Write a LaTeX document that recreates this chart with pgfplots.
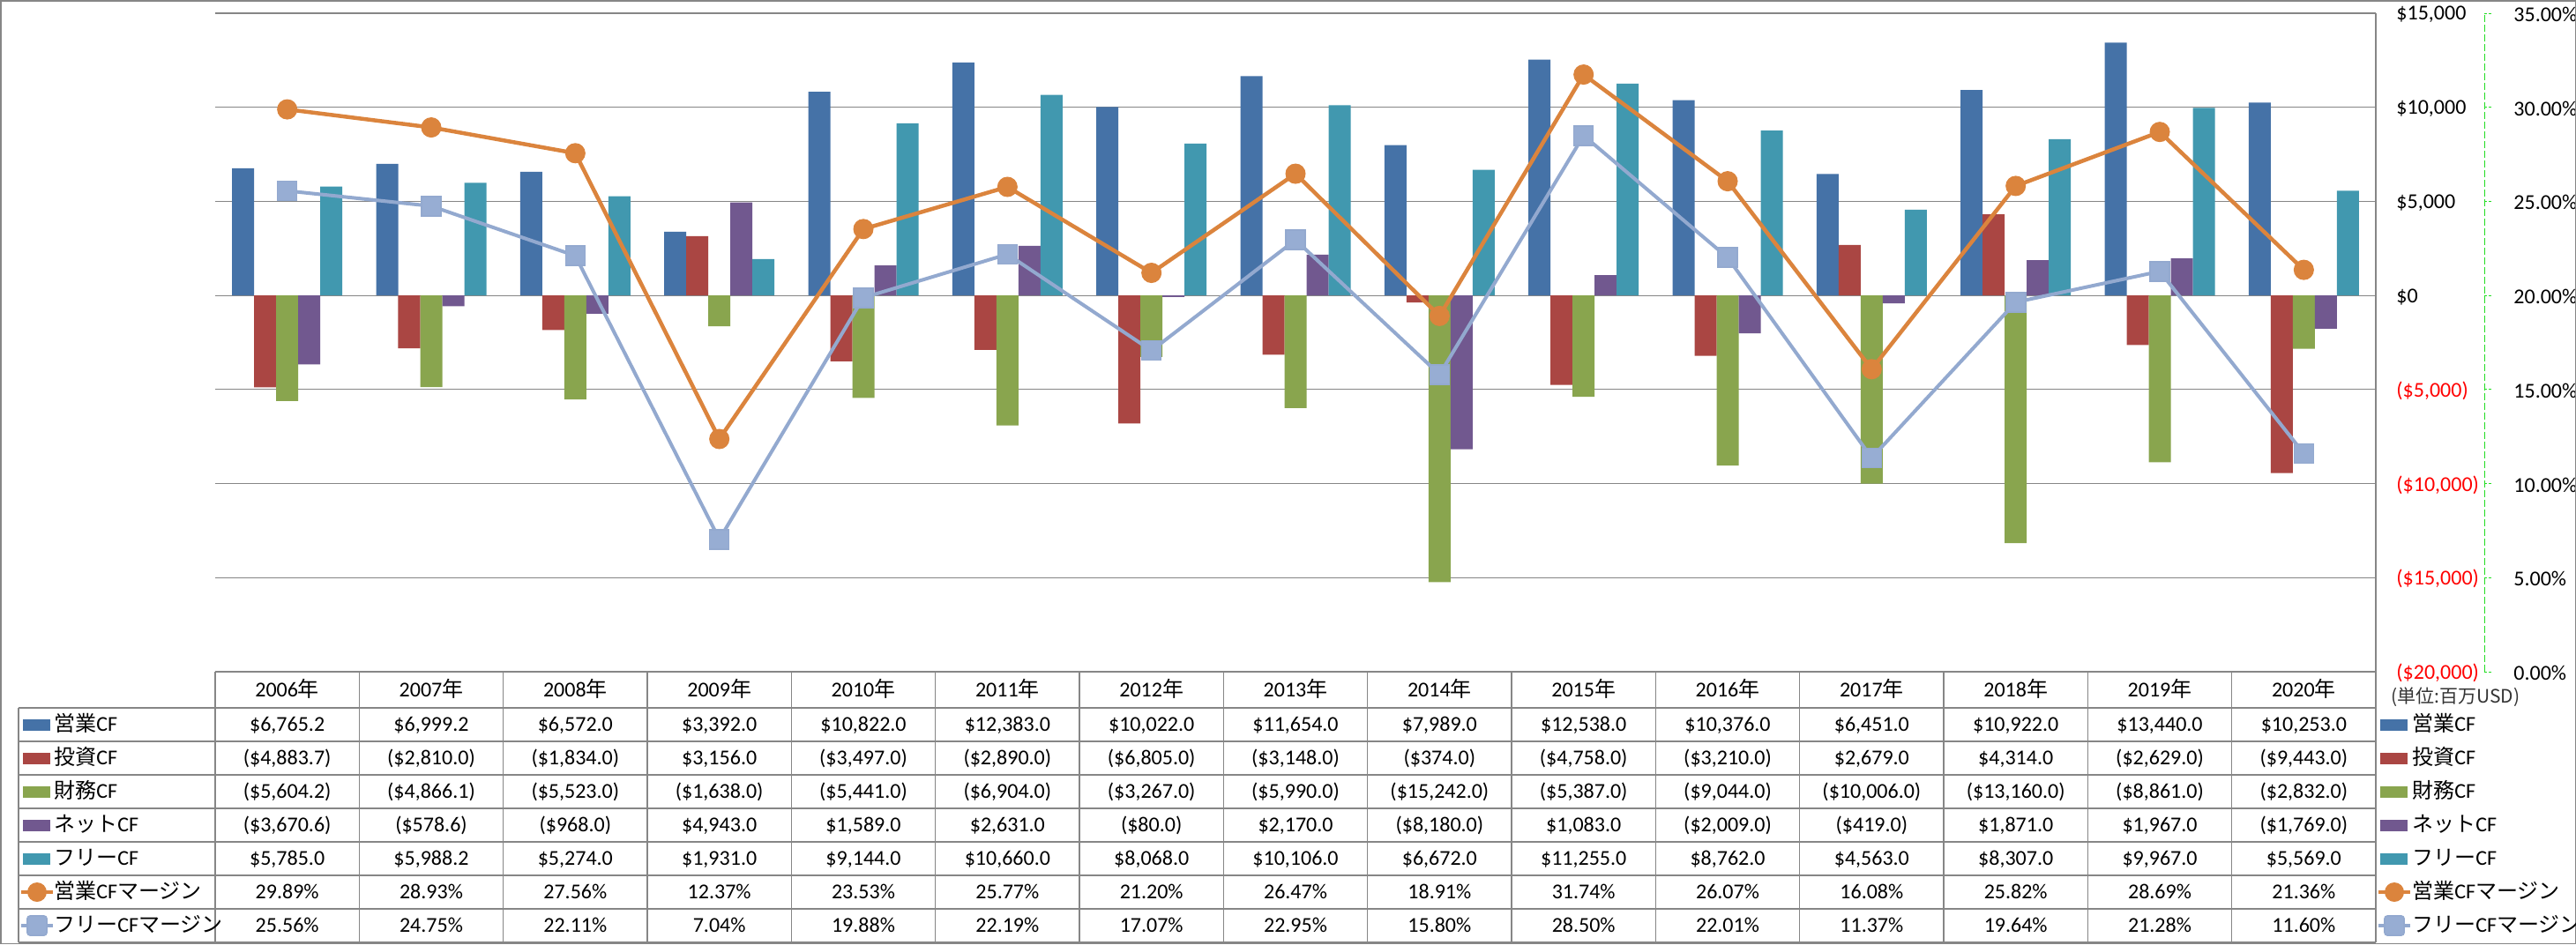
\documentclass[border=0pt]{standalone}
\usepackage{pgfplots}
\pgfplotsset{compat=1.18}
\usepackage{pgfplotstable}
\usepackage{fontspec}
\setmainfont{Carlito}
\newfontfamily\cjk{Noto Sans CJK JP}
\definecolor{cOp}{HTML}{4572A7}
\definecolor{cInv}{HTML}{AA4643}
\definecolor{cFin}{HTML}{89A54E}
\definecolor{cNet}{HTML}{71588F}
\definecolor{cFree}{HTML}{4198AF}
\definecolor{cOpm}{HTML}{DB843D}
\definecolor{cFrm}{HTML}{93A9CF}
\definecolor{cFrmM}{HTML}{97ADD3}
\definecolor{gridgray}{HTML}{868686}
\definecolor{negred}{HTML}{FF0000}
\definecolor{secgreen}{HTML}{22DD22}
\newcommand\tfont{\fontsize{12pt}{14pt}\selectfont}

\pgfplotstableread{
x year op inv fin net free opm frm
0 2006 6765.2 -4883.7 -5604.2 -3670.6 5785.0 29.89 25.56
1 2007 6999.2 -2810.0 -4866.1 -578.6 5988.2 28.93 24.75
2 2008 6572.0 -1834.0 -5523.0 -968.0 5274.0 27.56 22.11
3 2009 3392.0 3156.0 -1638.0 4943.0 1931.0 12.37 7.04
4 2010 10822.0 -3497.0 -5441.0 1589.0 9144.0 23.53 19.88
5 2011 12383.0 -2890.0 -6904.0 2631.0 10660.0 25.77 22.19
6 2012 10022.0 -6805.0 -3267.0 -80.0 8068.0 21.20 17.07
7 2013 11654.0 -3148.0 -5990.0 2170.0 10106.0 26.47 22.95
8 2014 7989.0 -374.0 -15242.0 -8180.0 6672.0 18.91 15.80
9 2015 12538.0 -4758.0 -5387.0 1083.0 11255.0 31.74 28.50
10 2016 10376.0 -3210.0 -9044.0 -2009.0 8762.0 26.07 22.01
11 2017 6451.0 2679.0 -10006.0 -419.0 4563.0 16.08 11.37
12 2018 10922.0 4314.0 -13160.0 1871.0 8307.0 25.82 19.64
13 2019 13440.0 -2629.0 -8861.0 1967.0 9967.0 28.69 21.28
14 2020 10253.0 -9443.0 -2832.0 -1769.0 5569.0 21.36 11.60
}\cfdata

\newcommand\money[1]{\ifdim #1pt<0pt (\$\edef\tmpabs{\fpeval{abs(#1)}}\pgfmathprintnumber[fixed,fixed zerofill,precision=1,1000 sep={,},assume math mode=true]{\tmpabs})\else \$\pgfmathprintnumber[fixed,fixed zerofill,precision=1,1000 sep={,},assume math mode=true]{#1}\fi}
\newcommand\pct[1]{\pgfmathprintnumber[fixed,fixed zerofill,precision=2,assume math mode=true]{#1}\%}

\newcommand\LA{{\cjk 営業}CF}
\newcommand\LB{{\cjk 投資}CF}
\newcommand\LC{{\cjk 財務}CF}
\newcommand\LD{{\cjk ネット}CF}
\newcommand\LE{{\cjk フリー}CF}
\newcommand\LF{{\cjk 営業}CF{\cjk マージン}}
\newcommand\LG{{\cjk フリー}CF{\cjk マージン}}

\begin{document}
\begin{tikzpicture}
\useasboundingbox (0pt,0pt) rectangle (1460.5pt,-535.5pt);
% primary axis with bars
\begin{axis}[
  at={(122pt,-381pt)}, anchor=south west,
  width=1225pt, height=373.5pt, scale only axis,
  xmin=-0.5, xmax=14.5, ymin=-20000, ymax=15000,
  axis x line=none, axis y line*=right,
  y axis line style={draw=none},
  ytick={-20000,-15000,-10000,-5000,0,5000,10000,15000},
  yticklabels={{\color{negred}(\$20,000)},{\color{negred}(\$15,000)},{\color{negred}(\$10,000)},{\color{negred}(\$5,000)},{\$0},{\$5,000},{\$10,000},{\$15,000}},
  major tick length=0pt, ytick style={draw=none},
  yticklabel style={anchor=west, inner sep=0pt, xshift=11.5pt, yshift=-0.7pt, font=\tfont},
  ymajorgrids, grid style={draw=gridgray, line width=0.6pt},
]
\addplot[ybar, bar width=0.1531, bar shift=-0.3061, fill=cOp, draw=none] table[x=x,y=op]{\cfdata};
\addplot[ybar, bar width=0.1531, bar shift=-0.1531, fill=cInv, draw=none] table[x=x,y=inv]{\cfdata};
\addplot[ybar, bar width=0.1531, bar shift=0, fill=cFin, draw=none] table[x=x,y=fin]{\cfdata};
\addplot[ybar, bar width=0.1531, bar shift=0.1531, fill=cNet, draw=none] table[x=x,y=net]{\cfdata};
\addplot[ybar, bar width=0.1531, bar shift=0.3061, fill=cFree, draw=none] table[x=x,y=free]{\cfdata};
\end{axis}
% secondary axis with margin lines
\begin{axis}[
  at={(122pt,-381pt)}, anchor=south west,
  width=1225pt, height=373.5pt, scale only axis,
  xmin=-0.5, xmax=14.5, ymin=0, ymax=35,
  axis x line=none, axis y line*=right,
  y axis line style={draw=secgreen, line width=0.5pt, dash pattern=on 4pt off 1.5pt, xshift=61.5pt, -},
  ytick={0,5,10,15,20,25,30,35},
  yticklabels={{0.00\%},{5.00\%},{10.00\%},{15.00\%},{20.00\%},{25.00\%},{30.00\%},{35.00\%}},
  tick align=outside, major tick length=4pt,
  ytick style={draw=secgreen, line width=0.5pt, dash pattern=on 1.5pt off 1pt, xshift=61.5pt},
  yticklabel style={anchor=west, inner sep=0pt, xshift=74pt, yshift=-0.7pt, font=\tfont},
  clip=false,
]
\addplot[color=cOpm, line width=2.25pt, mark=*, mark size=5.5pt, mark options={fill=cOpm, draw=cOpm, line width=0.5pt}] table[x=x,y=opm]{\cfdata};
\addplot[color=cFrm, line width=2pt, mark=square*, mark size=5.5pt, mark options={fill=cFrmM, draw=cFrm, line width=0.8pt, rounded corners=1.5pt}] table[x=x,y=frm]{\cfdata};
\end{axis}
% data table, legends and frame (image pixel coordinates)
\begin{scope}[x=0.5pt,y=-0.5pt]
 \draw[gridgray, line width=0.75pt] (0.75,0.75) rectangle (2920.25,1070.25);
 \begin{scope}[gridgray, line width=0.6pt]
  \draw (244,762) -- (2694,762);
  \foreach \yy in {803,841,879,917,955,993,1031,1069} \draw (21,\yy) -- (2694,\yy);
  \draw (21,803) -- (21,1069);
  \foreach \k in {0,...,14} \draw ({244+163.3333*\k},762) -- ({244+163.3333*\k},1069);
  \draw (2694,15) -- (2694,1069);
 \end{scope}
 \foreach \i in {0,...,14}{
   \pgfmathsetmacro\cx{244+163.3333*(\i+0.5)}
   \pgfplotstablegetelem{\i}{year}\of\cfdata
   \node[font=\tfont, anchor=base, inner sep=0pt] at (\cx,790) {\pgfplotsretval{\cjk 年}};
   \foreach \col/\ry in {op/822,inv/860,fin/898,net/936,free/974}{
     \pgfplotstablegetelem{\i}{\col}\of\cfdata
     \node[font=\tfont, anchor=base, inner sep=0pt] at (\cx,\ry+7.5) {\money{\pgfplotsretval}};
   }
   \pgfplotstablegetelem{\i}{opm}\of\cfdata
   \node[font=\tfont, anchor=base, inner sep=0pt] at (\cx,1019.5) {\pct{\pgfplotsretval}};
   \pgfplotstablegetelem{\i}{frm}\of\cfdata
   \node[font=\tfont, anchor=base, inner sep=0pt] at (\cx,1057.5) {\pct{\pgfplotsretval}};
 }
 % legends (left in table, right beside the table)
 \foreach \lx/\tx/\mx in {26/61/42, 2699/2735/2715}{
   \fill[cOp]   (\lx,815.5) rectangle ++(31,13);
   \fill[cInv]  (\lx,853.5) rectangle ++(31,13);
   \fill[cFin]  (\lx,891.5) rectangle ++(31,13);
   \fill[cNet]  (\lx,929.5) rectangle ++(31,13);
   \fill[cFree] (\lx,967.5) rectangle ++(31,13);
   \draw[cOpm, line width=2.25pt] (\mx-18,1012) -- (\mx+18,1012);
   \fill[cOpm] (\mx,1012) circle[radius=5.5pt];
   \draw[cFrm, line width=2pt] (\mx-18,1050) -- (\mx+18,1050);
   \filldraw[fill=cFrmM, draw=cFrm, line width=0.8pt, rounded corners=1.5pt] (\mx-11,1039) rectangle (\mx+11,1061);
   \node[font=\tfont, anchor=base west, inner sep=0pt] at (\tx,829.5) {\LA};
   \node[font=\tfont, anchor=base west, inner sep=0pt] at (\tx,867.5) {\LB};
   \node[font=\tfont, anchor=base west, inner sep=0pt] at (\tx,905.5) {\LC};
   \node[font=\tfont, anchor=base west, inner sep=0pt] at (\tx,943.5) {\LD};
   \node[font=\tfont, anchor=base west, inner sep=0pt] at (\tx,981.5) {\LE};
   \node[font=\tfont, anchor=base west, inner sep=0pt] at (\tx,1019.5) {\LF};
   \node[font=\tfont, anchor=base west, inner sep=0pt] at (\tx,1057.5) {\LG};
 }
 \node[font=\fontsize{10.5pt}{12pt}\selectfont\cjk, text=black!80, anchor=base west, inner sep=0pt] at (2711,797) {(単位:百万USD)};
\end{scope}
\end{tikzpicture}
\end{document}
